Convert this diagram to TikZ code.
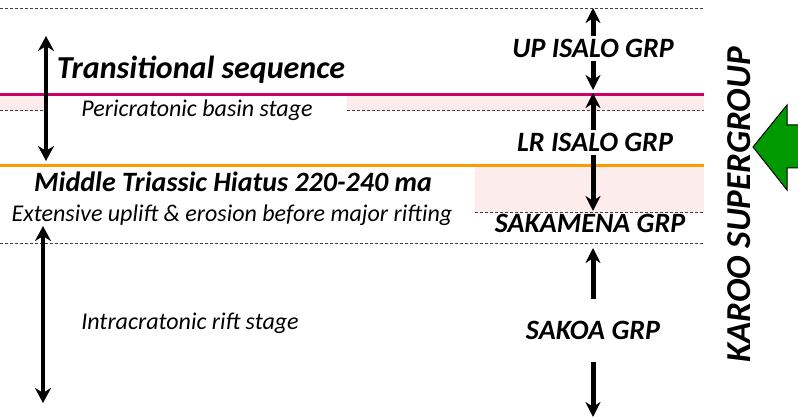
\documentclass[tikz,border=0pt]{standalone}
\usepackage{fontspec}
\setmainfont{Carlito}
\usetikzlibrary{arrows.meta}

\definecolor{magline}{RGB}{204,0,102}
\definecolor{orline}{RGB}{255,153,0}
\definecolor{pinkfill}{RGB}{253,236,236}
\definecolor{arrowgreen}{RGB}{0,153,0}

\tikzset{
  horizon/.style={densely dashed, black!75, line width=0.8pt},
  grp/.style={font=\fontsize{28}{30}\selectfont\bfseries\itshape, anchor=base, inner sep=3pt},
  stage/.style={font=\fontsize{24}{26}\selectfont\itshape, anchor=base, inner sep=0pt},
  span/.style={{Stealth[length=15pt,width=16pt]}-{Stealth[length=15pt,width=16pt]}, line width=3.2pt},
  grparrow/.style={-{Stealth[length=15pt,width=15pt]}, line width=5pt}
}

\begin{document}
\begin{tikzpicture}[x=1pt,y=-1pt]
\useasboundingbox (0,0) rectangle (798,419);
% shaded bands
\fill[pinkfill] (0,96) rectangle (45,110);
\fill[pinkfill] (347,96) rectangle (704,110);
\fill[pinkfill] (475,167) rectangle (704,212);
% horizons
\draw[horizon] (0,8) -- (704,8);
\draw[horizon] (0,110) -- (45,110);
\draw[horizon] (347,110) -- (704,110);
\draw[horizon] (475,212) -- (704,212);
\draw[horizon] (0,243) -- (704,243);
\draw[magline, line width=3pt] (0,95) -- (704,95);
\draw[orline, line width=3pt] (0,166) -- (704,166);

% left column
\node[stage, font=\fontsize{32}{34}\selectfont\bfseries\itshape] (trans) at (201,79) {Transitional sequence};
\node[stage] (peri) at (197,117) {Pericratonic basin stage};
\node[stage, font=\fontsize{28}{30}\selectfont\bfseries\itshape] (hiatus) at (233,192) {Middle Triassic Hiatus 220-240 ma};
\node[stage] (uplift) at (232,222) {Extensive uplift \& erosion before major rifting};
\node[stage] (intra) at (190,330) {Intracratonic rift stage};

\coordinate (trans top) at (46,36);
\coordinate (trans bot) at (46,161);
\coordinate (rift top) at (43,226);
\coordinate (rift bot) at (43,403);
\draw[span] (trans top) -- (trans bot);
\draw[span] (rift top) -- (rift bot);

% groups
\node[grp] (upisalo) at (593,58) {UP ISALO GRP};
\node[grp] (lrisalo) at (595,152) {LR ISALO GRP};
\node[grp] (sakamena) at (590,233) {SAKAMENA GRP};
\node[grp] (sakoa) at (593,340) {SAKOA GRP};

\coordinate (c top) at (593,8);
\coordinate (c mag) at (593,90);
\coordinate (c mag2) at (593,93);
\coordinate (c saka) at (593,211);
\coordinate (c sakoa top) at (593,248);
\coordinate (c sakoa bot) at (593,417);
\draw[grparrow] (upisalo.north -| c top) -- (c top);
\draw[grparrow] (upisalo.south -| c top) -- (c mag);
\draw[grparrow] (lrisalo.north -| c top) -- (c mag2);
\draw[grparrow] (lrisalo.south -| c top) -- (c saka);
\draw[grparrow, shorten <=19pt] (sakoa.north -| c top) -- (c sakoa top);
\draw[grparrow, shorten <=19pt] (sakoa.south -| c top) -- (c sakoa bot);

% supergroup
\node[rotate=90, anchor=base, inner sep=0pt, font=\fontsize{35}{37}\selectfont\bfseries\itshape] (karoo) at (750,205) {KAROO SUPERGROUP};
\draw[fill=arrowgreen, line width=1pt] (753,147) -- (787,105) -- (787,125) -- (800,125)
  -- (800,168) -- (787,168) -- (787,190) -- cycle;
\end{tikzpicture}
\end{document}
